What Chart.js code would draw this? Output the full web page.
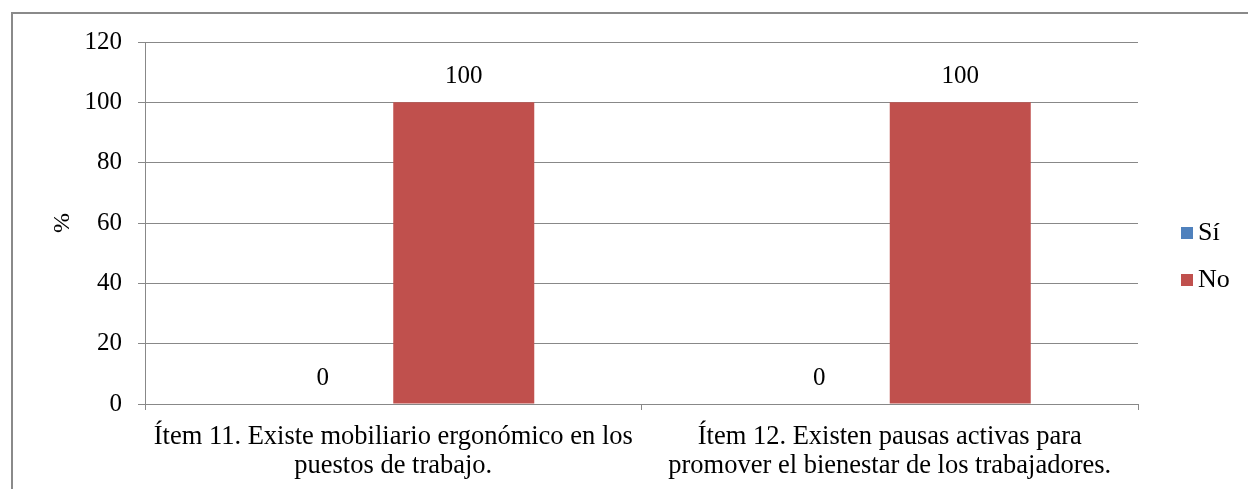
<!DOCTYPE html>
<html>
<head>
<meta charset="utf-8">
<script src="https://cdn.jsdelivr.net/npm/chart.js@4.4.0/dist/chart.umd.min.js"></script>
<style>
  html, body { margin: 0; padding: 0; background: #fff; overflow: hidden; }
  #wrap { position: relative; width: 1248px; height: 489px; }
  #frame {
    position: absolute; left: 11px; top: 12px; width: 1300px; height: 600px;
    border: 2px solid #8a8a8a; box-sizing: border-box; pointer-events: none;
  }
</style>
</head>
<body>
<div id="wrap">
  <canvas id="chart"></canvas>
  <div id="frame"></div>
</div>
<script>
// data
const categories = [
  ["Ítem 11. Existe mobiliario ergonómico en los", "puestos de trabajo."],
  ["Ítem 12. Existen pausas activas para", "promover el bienestar de los trabajadores."]
];
const seriesNames = ["Sí", "No"];
const siValues = [0, 0];
const noValues = [100, 100];
const yTicks = [0, 20, 40, 60, 80, 100, 120];

const FONT = "'Liberation Serif', 'Times New Roman', serif";
const GRID = "#888888";

/* value labels above bars */
const valueLabels = {
  id: "valueLabels",
  afterDatasetsDraw(chart) {
    const ctx = chart.ctx;
    ctx.save();
    ctx.font = "25px " + FONT;
    ctx.fillStyle = "#000";
    ctx.textAlign = "center";
    ctx.textBaseline = "middle";
    chart.data.datasets.forEach((ds, i) => {
      chart.getDatasetMeta(i).data.forEach((bar, j) => {
        ctx.fillText(String(ds.data[j]), bar.x, bar.y - 26);
      });
    });
    ctx.restore();
  }
};

/* legend drawn at the right, like the original */
const sideLegend = {
  id: "sideLegend",
  afterDraw(chart) {
    const ctx = chart.ctx;
    const x0 = chart.chartArea.right + 43;
    ctx.save();
    ctx.font = "26px " + FONT;
    ctx.textBaseline = "middle";
    ctx.textAlign = "left";
    chart.data.datasets.forEach((ds, i) => {
      const y = 233 + i * 47;
      ctx.fillStyle = ds.backgroundColor;
      ctx.fillRect(x0, y - 6, 12, 12);
      ctx.fillStyle = "#000";
      ctx.fillText(ds.label, x0 + 17, y);
    });
    ctx.restore();
  }
};

new Chart(document.getElementById("chart"), {
  type: "bar",
  data: {
    labels: categories,
    datasets: [
      { label: seriesNames[0], data: siValues, backgroundColor: "#4F81BD" },
      { label: seriesNames[1], data: noValues, backgroundColor: "#C0504D" }
    ]
  },
  options: {
    responsive: true,
    maintainAspectRatio: false,
    animation: false,
    categoryPercentage: 0.568,
    barPercentage: 1,
    layout: { padding: { left: 11, top: 42, right: 110, bottom: 0 } },
    plugins: {
      legend: { display: false },
      tooltip: { enabled: false }
    },
    scales: {
      x: {
        grid: {
          offset: true,
          drawOnChartArea: false,
          drawTicks: true,
          tickLength: 6,
          color: GRID,
          tickColor: GRID
        },
        border: { color: GRID, width: 1 },
        ticks: {
          color: "#000",
          font: { family: FONT, size: 26.5, lineHeight: 1.1 },
          padding: 12,
          maxRotation: 0,
          autoSkip: false
        },
        afterFit(scale) { scale.height = 85; }
      },
      y: {
        min: 0,
        max: 120,
        afterBuildTicks(scale) { scale.ticks = yTicks.map(v => ({ value: v })); },
        grid: { color: GRID, tickColor: GRID, tickLength: 7, lineWidth: 1 },
        border: { color: GRID, width: 1 },
        ticks: {
          color: "#000",
          font: { family: FONT, size: 25 },
          padding: 16
        },
        title: {
          display: true,
          text: "%",
          color: "#000",
          font: { family: FONT, size: 24 },
          padding: { top: 37, bottom: 0 }
        },
        afterFit(scale) { scale.width = 134; }
      }
    }
  },
  plugins: [valueLabels, sideLegend]
});
</script>
</body>
</html>
